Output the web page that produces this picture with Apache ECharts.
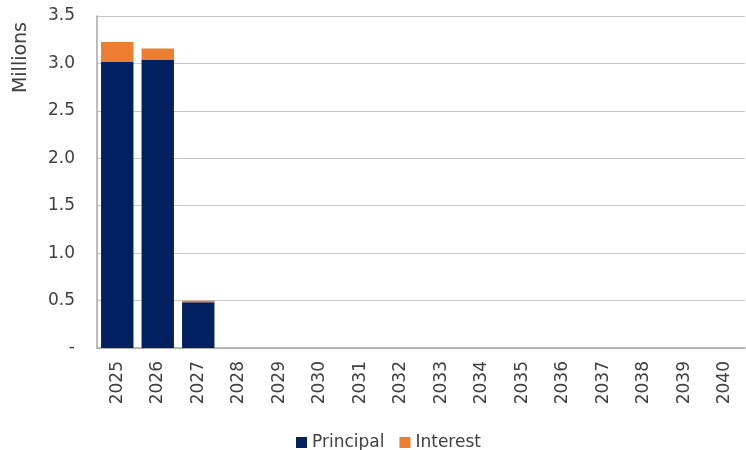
<!DOCTYPE html>
<html>
<head>
<meta charset="utf-8">
<script src="https://cdn.jsdelivr.net/npm/echarts@6/dist/echarts.min.js"></script>
<style>
html,body{margin:0;padding:0;background:#fff;}
#chart{width:746px;height:450px;}
</style>
</head>
<body>
<div id="chart"></div>
<script>
// Debt service schedule (millions)
var years = ['2025','2026','2027','2028','2029','2030','2031','2032','2033','2034','2035','2036','2037','2038','2039','2040'];
var principal = [3.015, 3.035, 0.482, 0, 0, 0, 0, 0, 0, 0, 0, 0, 0, 0, 0, 0];
var interest = [0.212, 0.123, 0.017, 0, 0, 0, 0, 0, 0, 0, 0, 0, 0, 0, 0, 0];

var FONT = 'DejaVu Sans';
var chart = echarts.init(document.getElementById('chart'));
chart.setOption({
  animation: false,
  textStyle: { fontFamily: FONT },
  grid: { left: 97, right: 1, top: 16, bottom: 102 },
  legend: {
    top: 429,
    left: 291,
    itemWidth: 11,
    itemHeight: 11,
    itemGap: 15,
    icon: 'rect',
    textStyle: { fontFamily: FONT, fontSize: 17, color: '#404040', padding: [0, 0, 0, 0] },
    data: ['Principal', 'Interest']
  },
  graphic: [{
    type: 'text',
    left: 12,
    top: 22,
    rotation: Math.PI / 2,
    style: { text: 'Millions', font: '19px "DejaVu Sans"', fill: '#404040' }
  }],
  xAxis: {
    type: 'category',
    data: years,
    axisLine: { lineStyle: { color: '#a6a6a6', width: 1.5 } },
    axisTick: { show: false },
    axisLabel: { rotate: 90, fontSize: 17, color: '#404040', margin: 13, fontFamily: FONT }
  },
  yAxis: {
    type: 'value',
    min: 0,
    max: 3.5,
    interval: 0.5,
    axisLine: { show: true, lineStyle: { color: '#a6a6a6', width: 1.5 } },
    axisTick: { show: false },
    splitLine: { lineStyle: { color: '#c8c8c8', width: 1 } },
    axisLabel: {
      fontSize: 17, color: '#404040', margin: 22, fontFamily: FONT,
      formatter: function (v) { return v === 0 ? '-' : v.toFixed(1); }
    }
  },
  series: [
    {
      name: 'Principal', type: 'bar', stack: 'total', data: principal,
      barCategoryGap: '20%',
      itemStyle: { color: '#002060' }
    },
    {
      name: 'Interest', type: 'bar', stack: 'total', data: interest,
      barCategoryGap: '20%',
      itemStyle: { color: '#ed7d31' }
    }
  ]
});
</script>
</body>
</html>
